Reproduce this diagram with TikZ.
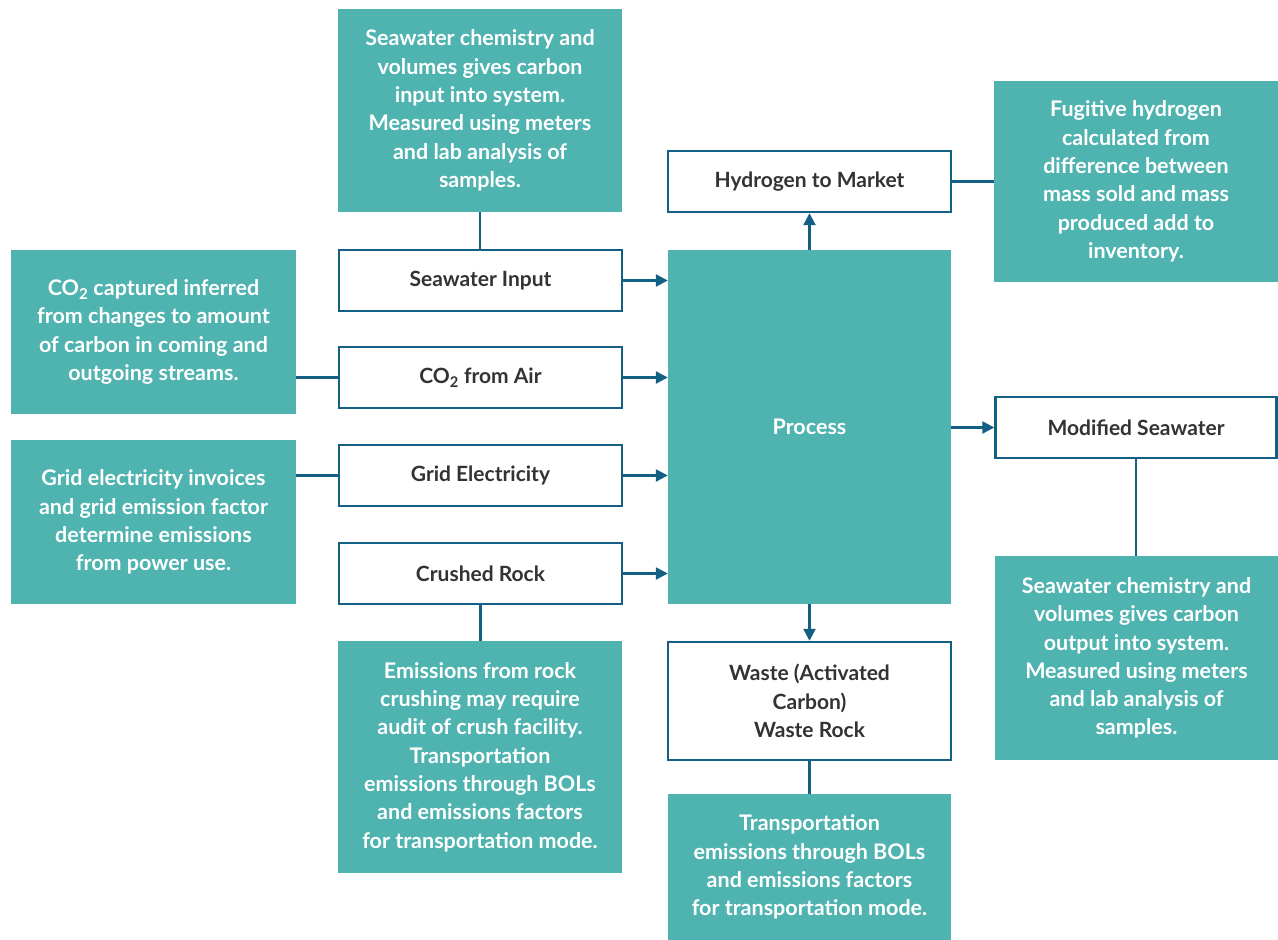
\documentclass[tikz,border=0pt]{standalone}
\usepackage{fontspec}
\setmainfont{Lato}
\usetikzlibrary{arrows.meta}
\definecolor{teal1}{HTML}{4FB3B0}
\definecolor{line1}{HTML}{145F84}
\definecolor{txt1}{HTML}{333333}
\tikzset{
  note/.style={fill=teal1, draw=none, text=white, align=center, inner sep=0pt,
    font=\fontsize{21.5}{28.3}\selectfont\bfseries},
  label/.style={fill=white, draw=line1, line width=2.4pt, text=txt1, align=center, inner sep=0pt,
    font=\fontsize{21}{28.3}\selectfont\bfseries},
  conn/.style={draw=line1, line width=2.4pt},
  arr/.style={conn, -{Triangle[length=12pt,width=12pt]}}
}
\begin{document}
\begin{tikzpicture}[x=1pt,y=-1pt]
\useasboundingbox[fill=white] (0,0) rectangle (1278,940);
% notes
\node[note, minimum width=284pt, minimum height=203pt] (s1) at (480,110.5)
  {Seawater chemistry and\\volumes gives carbon\\input into system.\\Measured using meters\\and lab analysis of\\samples.};
\node[note, minimum width=285pt, minimum height=164pt] (co2note) at (153.5,332)
  {CO\textsubscript{2} captured inferred\\from changes to amount\\of carbon in coming and\\outgoing streams.};
\node[note, minimum width=285pt, minimum height=164pt] (gridnote) at (153.5,522)
  {Grid electricity invoices\\and grid emission factor\\determine emissions\\from power use.};
\node[note, minimum width=284pt, minimum height=232pt] (rocknote) at (480,757)
  {Emissions from rock\\crushing may require\\audit of crush facility.\\Transportation\\emissions through BOLs\\and emissions factors\\for transportation mode.};
\node[note, minimum width=283pt, minimum height=354pt] (proc) at (809.5,427) {Process};
\node[note, minimum width=284pt, minimum height=201pt] (fug) at (1136,181.5)
  {Fugitive hydrogen\\calculated from\\difference between\\mass sold and mass\\produced add to\\inventory.};
\node[note, minimum width=283pt, minimum height=204pt] (swout) at (1136.5,658)
  {Seawater chemistry and\\volumes gives carbon\\output into system.\\Measured using meters\\and lab analysis of\\samples.};
\node[note, minimum width=283pt, minimum height=146pt] (trans) at (809.5,867)
  {Transportation\\emissions through BOLs\\and emissions factors\\for transportation mode.};
% labels
\node[label, minimum width=283pt, minimum height=61pt] (swin) at (480.5,280.5) {Seawater Input};
\node[label, minimum width=283pt, minimum height=61pt] (co2) at (480.5,377.5) {CO\textsubscript{2} from Air};
\node[label, minimum width=283pt, minimum height=61pt] (grid) at (480.5,475.5) {Grid Electricity};
\node[label, minimum width=283pt, minimum height=61pt] (rock) at (480.5,573.5) {Crushed Rock};
\node[label, minimum width=283pt, minimum height=61pt] (h2) at (809.5,181.5) {Hydrogen to Market};
\node[label, minimum width=281pt, minimum height=61pt] (modsw) at (1136,427.5) {Modified Seawater};
\node[label, minimum width=283pt, minimum height=118pt] (waste) at (809.5,701) {Waste (Activated\\Carbon)\\Waste Rock};
% connectors
\draw[conn] (s1.south) -- (s1.south |- swin.north);
\draw[arr] (swin.east) -- (swin.east -| proc.west);
\draw[arr] (co2.east) -- (co2.east -| proc.west);
\draw[arr] (grid.east) -- (grid.east -| proc.west);
\draw[arr] (rock.east) -- (rock.east -| proc.west);
\draw[conn] (co2note.east |- co2.west) -- (co2.west);
\draw[conn] (gridnote.east |- grid.west) -- (grid.west);
\draw[conn] (rock.south) -- (rock.south |- rocknote.north);
\draw[arr] (proc.north) -- (proc.north |- h2.south);
\draw[conn] (h2.east) -- (h2.east -| fug.west);
\draw[arr] (proc.east |- modsw.west) -- (modsw.west);
\draw[conn] (modsw.south) -- (modsw.south |- swout.north);
\draw[arr] (proc.south) -- (proc.south |- waste.north);
\draw[conn] (waste.south) -- (waste.south |- trans.north);
\end{tikzpicture}
\end{document}
